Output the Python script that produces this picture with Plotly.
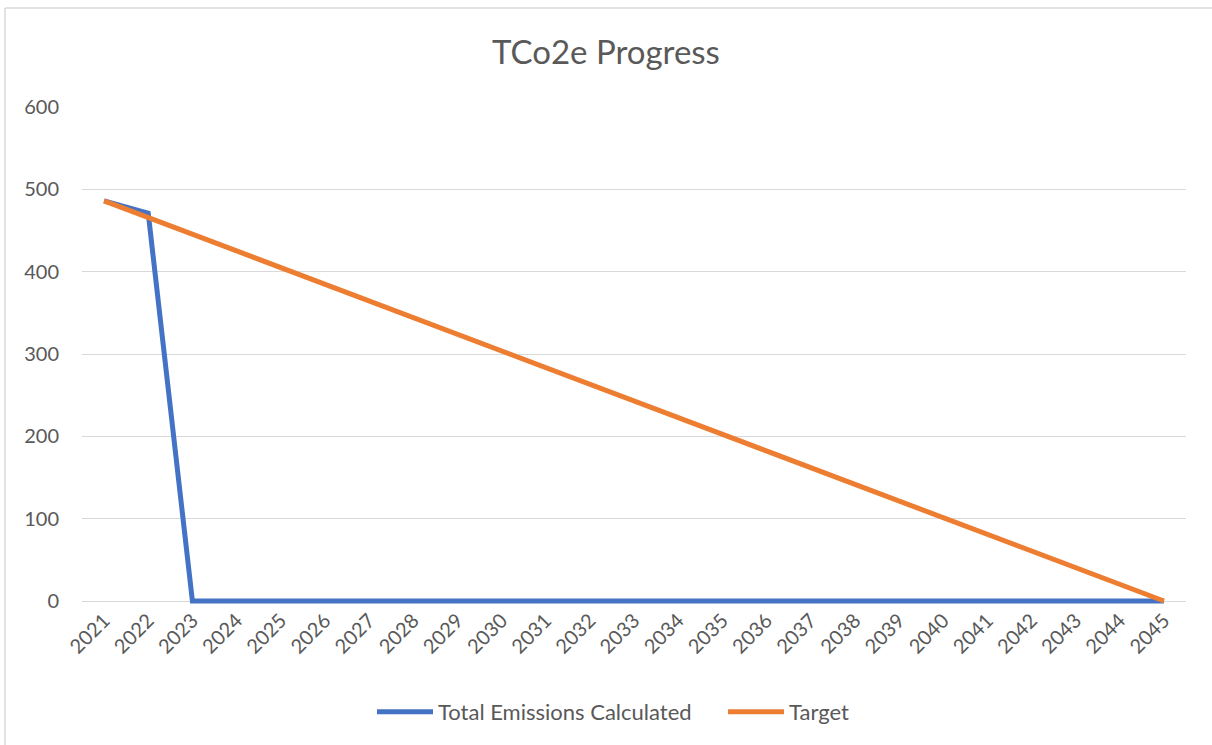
import plotly.graph_objects as go

years = [str(y) for y in range(2021, 2046)]
emissions = [486, 471] + [0] * 23
target = [486, 465.75, 445.5, 425.25, 405, 384.75, 364.5, 344.25, 324, 303.75,
          283.5, 263.25, 243, 222.75, 202.5, 182.25, 162, 141.75, 121.5, 101.25,
          81, 60.75, 40.5, 20.25, 0]
y_ticks = [0, 100, 200, 300, 400, 500, 600]

W, H = 1212, 745
L, R, T, B = 82, 1186, 107, 604   # B is 3px below the zero line so the line at 0 is not clipped
Y0_PX = 601
unit = (Y0_PX - T) / 600.0
y_min = -(B - Y0_PX) / unit
FONT = "Lato, Open Sans, sans-serif"
GREY = "#595959"

fig = go.Figure()
fig.add_trace(go.Scatter(x=years, y=emissions, mode="lines", name="Total Emissions Calculated",
                         line=dict(color="#4472C4", width=5)))
fig.add_trace(go.Scatter(x=years, y=target, mode="lines", name="Target",
                         line=dict(color="#ED7D31", width=5)))

def px(x):
    return (x - L) / (R - L)

def py(y):
    return (B - y) / (B - T)

fig.update_layout(
    width=W, height=H,
    margin=dict(l=L, r=W - R, t=T, b=H - B, autoexpand=False),
    paper_bgcolor="white", plot_bgcolor="white",
    title=dict(text="TCo2e Progress", x=0.5, xanchor="center", y=1 - 52 / H, yanchor="middle",
               font=dict(family=FONT, size=33, color=GREY)),
    font=dict(family=FONT, color=GREY, size=20),
    xaxis=dict(type="category", tickangle=-45, showgrid=False, zeroline=False,
               showline=False, ticks="", tickfont=dict(size=20, color=GREY),
               range=[-0.5, len(years) - 0.5], automargin=False),
    yaxis=dict(range=[y_min, 600], tickvals=y_ticks, showgrid=True, gridcolor="#D9D9D9",
               gridwidth=1.3, zeroline=False, showline=False, ticks="",
               tickfont=dict(size=20, color=GREY), ticklabelstandoff=22, automargin=False),
    legend=dict(orientation="h", x=px(372), xanchor="left", y=py(712), yanchor="middle",
                font=dict(size=22, color=GREY), itemwidth=56, entrywidth=280,
                entrywidthmode="pixels", traceorder="normal"),
    showlegend=True,
    shapes=[
        dict(type="line", xref="paper", yref="paper", x0=px(5), x1=px(1212), y0=py(8), y1=py(8),
             line=dict(color="#D9D9D9", width=1.5)),
        dict(type="line", xref="paper", yref="paper", x0=px(5), x1=px(5), y0=py(8), y1=py(745),
             line=dict(color="#D9D9D9", width=1.5)),
    ],
)
fig.write_html("out.html", config={"displayModeBar": False},
               post_script="document.body.style.margin='0';document.body.style.overflow='hidden';")
